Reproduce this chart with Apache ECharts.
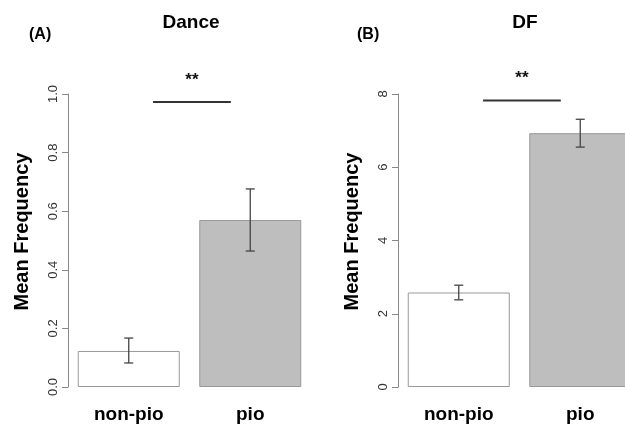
<!DOCTYPE html>
<html>
<head>
<meta charset="utf-8">
<script src="https://cdn.jsdelivr.net/npm/echarts@6/dist/echarts.min.js"></script>
<style>
html,body{margin:0;padding:0;background:#fff;}
#chart{width:625px;height:424px;}
</style>
</head>
<body>
<div id="chart"></div>
<script>
// ---- data ----
var categories = ['non-pio', 'pio'];
var danceMean = [0.123, 0.570];
var danceLow = [0.082, 0.464];
var danceHigh = [0.167, 0.676];
var dfMean = [2.58, 6.93];
var dfLow = [2.38, 6.55];
var dfHigh = [2.78, 7.31];
var danceSigY = [0.973];
var dfSigY = [7.82];
var danceTicks = [0, 0.2, 0.4, 0.6, 0.8, 1.0];
var dfTicks = [0, 2, 4, 6, 8];
var panelTitles = ['Dance', 'DF'];
var panelLabels = ['(A)', '(B)'];
var sigText = '**';

var FONT = '"Liberation Sans", Arial, Helvetica, sans-serif';
var barColors = ['#ffffff', '#bebebe'];

function errItem(params, api) {
  var x = api.value(0);
  var lo = api.coord([x, api.value(1)]);
  var hi = api.coord([x, api.value(2)]);
  var hw = 4.5;
  var st = {stroke: '#444', lineWidth: 1.3};
  return {type: 'group', children: [
    {type: 'line', shape: {x1: lo[0], y1: lo[1], x2: hi[0], y2: hi[1]}, style: st},
    {type: 'line', shape: {x1: lo[0]-hw, y1: lo[1], x2: lo[0]+hw, y2: lo[1]}, style: st},
    {type: 'line', shape: {x1: hi[0]-hw, y1: hi[1], x2: hi[0]+hw, y2: hi[1]}, style: st}
  ]};
}
function sigItem(params, api) {
  var y = api.value(0);
  var band = api.size([1, 0])[0];
  var p0 = api.coord([0, y]);
  var x1 = p0[0] + 0.2 * band;
  var x2 = p0[0] + 0.84 * band;
  return {type: 'group', children: [
    {type: 'line', shape: {x1: x1, y1: p0[1], x2: x2, y2: p0[1]}, style: {stroke: '#333', lineWidth: 2}},
    {type: 'text', style: {text: sigText, x: (x1 + x2) / 2, y: p0[1] - 22, textAlign: 'center', textVerticalAlign: 'middle', font: 'bold 17px ' + FONT, fill: '#111'}}
  ]};
}

function yAxisCfg(idx, max, interval, decimals) {
  return {
    type: 'value', gridIndex: idx, min: 0, max: max, interval: interval,
    name: 'Mean Frequency', nameLocation: 'middle', nameGap: 36,
    nameTextStyle: {fontFamily: FONT, fontWeight: 'bold', fontSize: 20, color: '#000', padding: [0, 0, 0, 18]},
    axisLine: {show: true, lineStyle: {color: '#888', width: 1}},
    axisTick: {show: true, length: 6, lineStyle: {color: '#888'}},
    axisLabel: {rotate: 90, fontFamily: FONT, fontSize: 13, color: '#333', margin: 8,
      formatter: function (v) { return v.toFixed(decimals); }},
    splitLine: {show: false}
  };
}
function xAxisCfg(idx) {
  return {
    type: 'category', gridIndex: idx, data: categories,
    axisLine: {show: false}, axisTick: {show: false},
    axisLabel: {fontFamily: FONT, fontWeight: 'bold', fontSize: 19, color: '#000', margin: 18}
  };
}
function barData(vals) {
  return vals.map(function (v, i) { return {value: v, itemStyle: {color: barColors[i]}}; });
}
function errData(lo, hi) {
  return lo.map(function (l, i) { return [i, l, hi[i]]; });
}

var chart = echarts.init(document.getElementById('chart'), null, {renderer: 'canvas'});
var titleStyle = {fontFamily: FONT, fontWeight: 'bold', fontSize: 19, color: '#000'};
var labelStyle = {fontFamily: FONT, fontWeight: 'bold', fontSize: 16, color: '#000'};
chart.setOption({
  animation: false,
  backgroundColor: '#fff',
  title: [
    {text: panelTitles[0], left: 186, top: 8, textAlign: 'center', textStyle: titleStyle},
    {text: panelTitles[1], left: 520, top: 8, textAlign: 'center', textStyle: titleStyle},
    {text: panelLabels[0], left: 24, top: 22, textStyle: labelStyle},
    {text: panelLabels[1], left: 352, top: 22, textStyle: labelStyle}
  ],
  grid: [
    {left: 68, top: 94, width: 243, height: 293, outerBoundsMode: 'none', containLabel: false},
    {left: 398, top: 94, width: 243, height: 293, outerBoundsMode: 'none', containLabel: false}
  ],
  xAxis: [xAxisCfg(0), xAxisCfg(1)],
  yAxis: [yAxisCfg(0, 1, 0.2, 1), yAxisCfg(1, 8, 2, 0)],
  series: [
    {type: 'bar', xAxisIndex: 0, yAxisIndex: 0, barWidth: 102, data: barData(danceMean),
     itemStyle: {borderColor: '#999', borderWidth: 1}},
    {type: 'custom', xAxisIndex: 0, yAxisIndex: 0, data: errData(danceLow, danceHigh), renderItem: errItem, z: 5},
    {type: 'custom', xAxisIndex: 0, yAxisIndex: 0, data: [danceSigY], renderItem: sigItem, z: 5},
    {type: 'bar', xAxisIndex: 1, yAxisIndex: 1, barWidth: 102, data: barData(dfMean),
     itemStyle: {borderColor: '#999', borderWidth: 1}},
    {type: 'custom', xAxisIndex: 1, yAxisIndex: 1, data: errData(dfLow, dfHigh), renderItem: errItem, z: 5},
    {type: 'custom', xAxisIndex: 1, yAxisIndex: 1, data: [dfSigY], renderItem: sigItem, z: 5}
  ]
});
</script>
</body>
</html>
